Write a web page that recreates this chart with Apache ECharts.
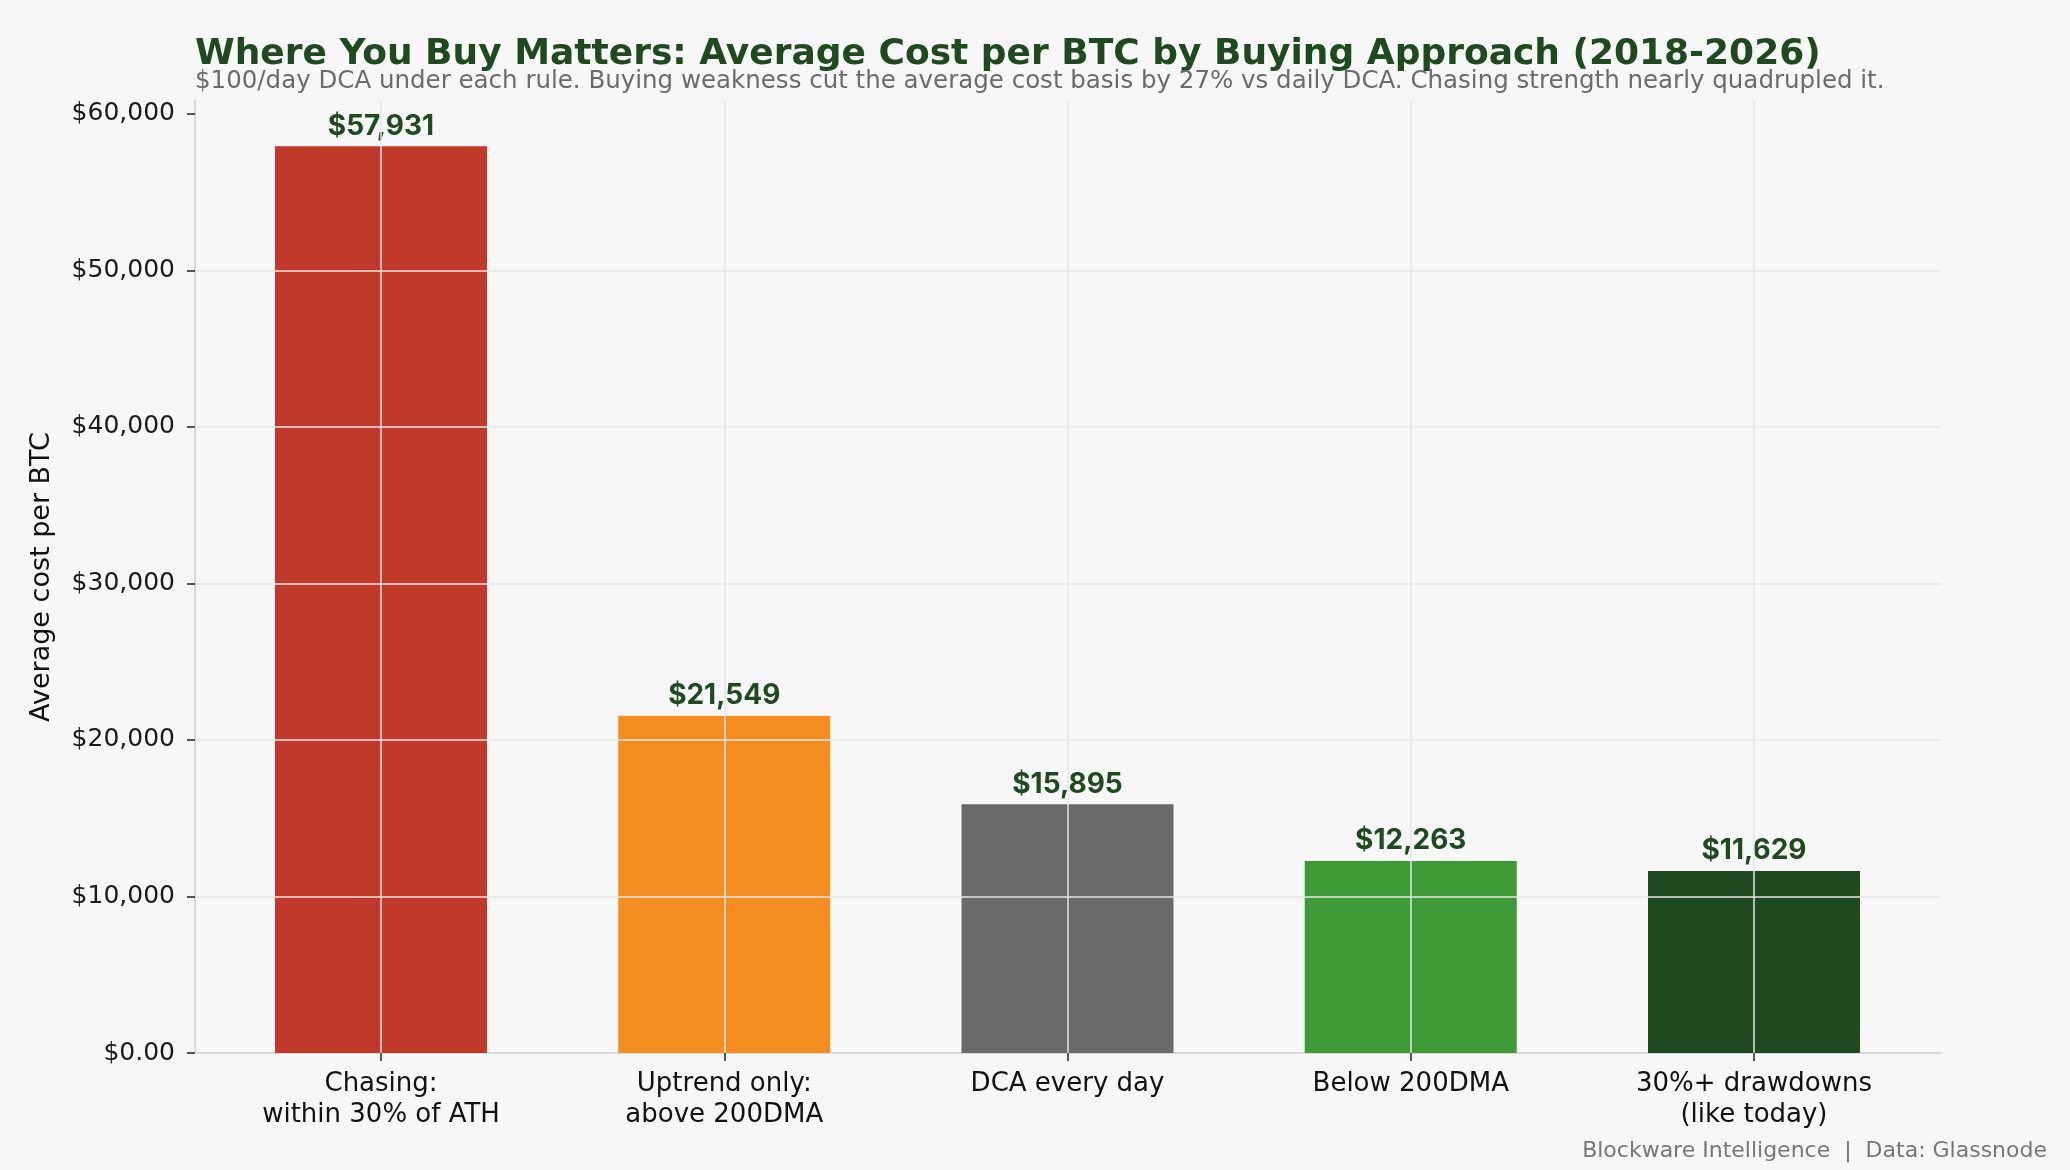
<!DOCTYPE html>
<html>
<head>
<meta charset="utf-8">
<script src="https://cdn.jsdelivr.net/npm/echarts@6/dist/echarts.min.js"></script>
<style>
  html, body { margin: 0; padding: 0; background: #f7f7f7; }
  #main { width: 2070px; height: 1170px; }
</style>
</head>
<body>
<div id="main"></div>
<script>
// 数据
const categories = ['Chasing:\nwithin 30% of ATH', 'Uptrend only:\nabove 200DMA', 'DCA every day', 'Below 200DMA', '30%+ drawdowns\n(like today)']
const avgCost = [57931, 21549, 15895, 12263, 11629]
const barColors = ['#c0392b', '#f58e21', '#6a6a6a', '#3e9a36', '#1f4a1f']
const yTickValues = [0, 10000, 20000, 30000, 40000, 50000, 60000]
const yTickLabels = ['$0.00', '$10,000', '$20,000', '$30,000', '$40,000', '$50,000', '$60,000']
const yMax = 60828

const myChart = echarts.init(document.getElementById('main'))
const option = {
  backgroundColor: '#f7f7f7',
  animation: false,
  //标题、副标题、来源
  title: [
    {
      text: 'Where You Buy Matters: Average Cost per BTC by Buying Approach (2018-2026)',
      left: 195, top: 37, padding: 0,
      textStyle: { fontFamily: 'DejaVu Sans', fontWeight: 'bold', fontSize: 36, color: '#1f4a1f' }
    },
    {
      text: '$100/day DCA under each rule. Buying weakness cut the average cost basis by 27% vs daily DCA. Chasing strength nearly quadrupled it.',
      left: 195, top: 69, padding: 0,
      textStyle: { fontFamily: 'DejaVu Sans', fontWeight: 400, fontSize: 24.5, color: '#6b6b6b' }
    },
    {
      text: 'Blockware Intelligence  |  Data: Glassnode',
      right: 23, top: 1140, padding: 0,
      textStyle: { fontFamily: 'DejaVu Sans', fontWeight: 400, fontSize: 22, color: '#777777' }
    }
  ],
  //grid 0 画坐标轴和网格，grid 1 画柱子
  grid: [
    { left: 195, right: 129, top: 101, bottom: 117 },
    { left: 209.4, right: 144.4, top: 101, bottom: 117 }
  ],
  xAxis: [
    {
      gridIndex: 0, type: 'value', min: 0, max: 1,
      axisLine: { show: true, lineStyle: { color: '#d9d9d9', width: 2 } },
      axisTick: { show: false }, axisLabel: { show: false }, splitLine: { show: false }
    },
    {
      gridIndex: 1, type: 'category', data: categories,
      axisLine: { show: false },
      axisTick: { show: true, alignWithLabel: true, length: 8, lineStyle: { color: '#222', width: 1.5 } },
      axisLabel: { margin: 16, fontFamily: 'DejaVu Sans', fontSize: 26, lineHeight: 31, color: '#111' },
      splitLine: { show: false }
    }
  ],
  yAxis: [
    {
      gridIndex: 0, type: 'value', min: 0, max: yMax, interval: 10000, z: 3,
      name: 'Average cost per BTC', nameLocation: 'middle', nameGap: 140,
      nameTextStyle: { fontFamily: 'DejaVu Sans', fontSize: 27, color: '#111' },
      axisLine: { show: true, lineStyle: { color: '#d9d9d9', width: 2 } },
      axisTick: { show: true, length: 8, customValues: yTickValues, lineStyle: { color: '#222', width: 1.5 } },
      axisLabel: {
        customValues: yTickValues, margin: 20,
        fontFamily: 'DejaVu Sans', fontSize: 25, color: '#1a1a1a',
        formatter: v => yTickLabels[yTickValues.indexOf(v)] || ''
      },
      splitLine: { show: true, showMinLine: false, showMaxLine: false, lineStyle: { color: '#e6e6e6', width: 1.5 } }
    },
    { gridIndex: 1, type: 'value', min: 0, max: yMax, show: false }
  ],
  series: [
    {
      type: 'bar',
      xAxisIndex: 1, yAxisIndex: 1,
      barWidth: 212,
      data: avgCost.map((v, i) => ({ value: v, itemStyle: { color: barColors[i] } })),
      label: {
        show: true, position: 'top', distance: 6,
        formatter: p => '$' + p.value.toLocaleString('en-US'),
        fontFamily: 'Inter', fontWeight: 700, fontSize: 28, color: '#1f4a1f'
      },
      //竖向网格线，画在柱子上面
      markLine: {
        silent: true, symbol: 'none', label: { show: false },
        lineStyle: { color: '#e6e6e6', width: 1.5, type: 'solid' },
        data: categories.map((c, i) => ({ xAxis: i }))
      }
    }
  ]
}
myChart.setOption(option)
</script>
</body>
</html>
